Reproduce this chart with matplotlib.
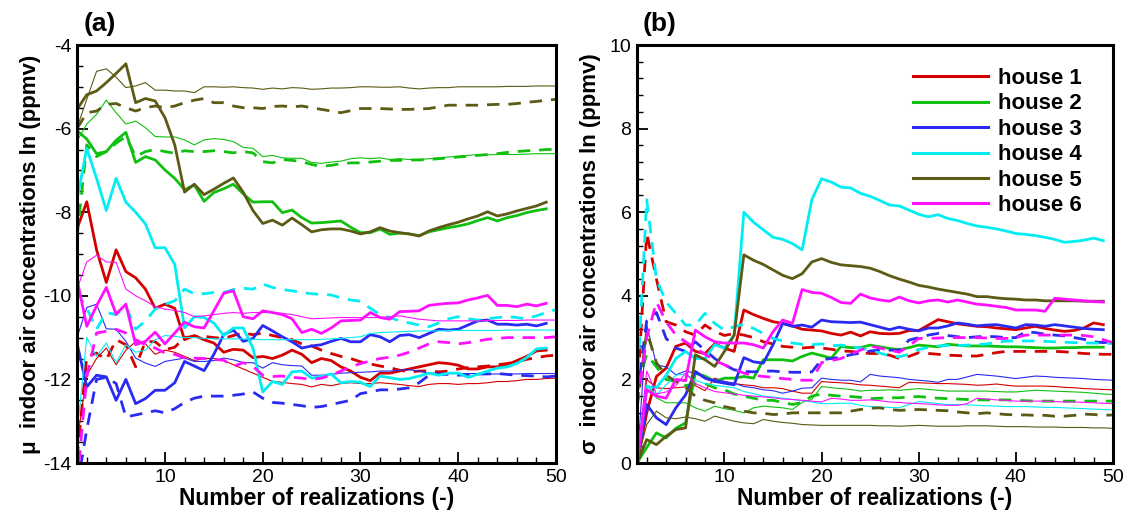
import numpy as np
import matplotlib
matplotlib.use("Agg")
import matplotlib.pyplot as plt
from matplotlib.ticker import MultipleLocator

plt.rcParams['font.family'] = ['Liberation Sans', 'DejaVu Sans']
plt.rcParams['axes.unicode_minus'] = False

houses = ['house 1', 'house 2', 'house 3', 'house 4', 'house 5', 'house 6']
colors = ['#d40000', '#10c010', '#2a2af2', '#00eef2', '#5c5a14', '#ff10ff']

# ---- (a) mean of ln concentration vs number of realizations ----
# thick = first set, thin = second set, dashed = third set
mu_h1 = [-8.40, -7.75, -8.90, -9.68, -8.90, -9.42, -9.57, -9.84, -10.30, -10.20,
         -10.30, -11.05, -10.95, -11.05, -11.13, -11.35, -11.28, -11.30, -11.48, -11.45,
         -11.50, -11.42, -11.30, -11.40, -11.60, -11.50, -11.55, -11.70, -11.80, -11.95,
         -12.03, -11.85, -11.85, -11.80, -11.75, -11.70, -11.65, -11.60, -11.62, -11.66,
         -11.75, -11.75, -11.70, -11.70, -11.65, -11.55, -11.45, -11.32, -11.30]
mu_h1_thin = [-13.5, -11.9, -11.5, -11.25, -11.65, -11.3, -11.1, -11.15, -11.4, -11.3,
              -11.35, -11.45, -11.55, -11.5, -11.5, -11.55, -11.65, -11.75, -11.85, -11.95,
              -12.05, -12.07, -12.1, -12.12, -12.18, -12.12, -12.15, -12.1, -12.08, -12.1,
              -12.1, -12.08, -12.1, -12.12, -12.15, -12.17, -12.12, -12.1, -12.1, -12.12,
              -12.1, -12.1, -12.08, -12.05, -12.05, -12.03, -12.0, -12.0, -11.98, -11.97]
mu_h1_dash = [-13.9, -11.45, -11.37, -11.53, -11.05, -11.17, -11.7, -11.09, -11.1, -11.29,
              -11.23, -11.0, -10.97, -10.97, -11.0, -11.02, -10.95, -10.89, -10.93, -10.89,
              -10.95, -11.0, -11.05, -11.15, -11.2, -11.3, -11.38, -11.45, -11.5, -11.58,
              -11.63, -11.68, -11.72, -11.78, -11.82, -11.8, -11.8, -11.82, -11.8, -11.75,
              -11.72, -11.7, -11.68, -11.65, -11.62, -11.58, -11.52, -11.48, -11.44, -11.42]

mu_h2 = [-6.05, -6.25, -6.6, -6.55, -6.28, -6.09, -6.81, -6.67, -6.75, -6.99,
         -7.19, -7.46, -7.35, -7.74, -7.53, -7.44, -7.33, -7.56, -7.76, -7.75,
         -7.75, -8.01, -7.95, -8.13, -8.26, -8.25, -8.23, -8.21, -8.36, -8.49,
         -8.49, -8.4, -8.53, -8.5, -8.52, -8.56, -8.47, -8.42, -8.37, -8.33,
         -8.28, -8.2, -8.13, -8.21, -8.13, -8.08, -8.01, -7.96, -7.92]
mu_h2_thin = [-6.3, -5.89, -5.66, -5.32, -5.62, -5.89, -5.82, -5.98, -6.19, -6.2,
              -6.2, -6.27, -6.39, -6.27, -6.24, -6.26, -6.31, -6.45, -6.47, -6.67,
              -6.64, -6.7, -6.71, -6.71, -6.81, -6.83, -6.8, -6.78, -6.72, -6.7,
              -6.72, -6.7, -6.74, -6.72, -6.74, -6.74, -6.72, -6.7, -6.68, -6.66,
              -6.64, -6.62, -6.63, -6.62, -6.62, -6.62, -6.61, -6.6, -6.6, -6.6]
mu_h2_dash = [-8.6, -6.39, -6.67, -6.55, -6.35, -6.19, -6.67, -6.55, -6.5, -6.55,
              -6.59, -6.53, -6.55, -6.55, -6.53, -6.55, -6.58, -6.55, -6.58, -6.79,
              -6.82, -6.74, -6.76, -6.79, -6.86, -6.9, -6.88, -6.84, -6.82, -6.82,
              -6.8, -6.78, -6.76, -6.76, -6.75, -6.75, -6.74, -6.72, -6.7, -6.68,
              -6.66, -6.64, -6.62, -6.6, -6.57, -6.55, -6.53, -6.52, -6.5, -6.5]

mu_h3 = [-11.13, -12.18, -11.9, -11.94, -12.5, -12.0, -12.58, -12.46, -12.26, -12.26,
         -12.08, -11.57, -11.68, -11.79, -11.4, -10.93, -10.82, -11.09, -11.02, -10.71,
         -10.84, -10.98, -11.1, -11.25, -11.2, -11.17, -11.09, -11.02, -11.1, -11.1,
         -10.93, -10.98, -11.1, -10.95, -10.93, -11.0, -10.9, -10.8, -10.82, -10.8,
         -10.7, -10.6, -10.58, -10.68, -10.68, -10.7, -10.68, -10.72, -10.66]
mu_h3_thin = [-11.0, -10.28, -10.2, -10.79, -10.8, -11.09, -11.49, -11.61, -11.69, -11.57,
              -11.53, -11.49, -11.57, -11.57, -11.55, -11.49, -11.53, -11.6, -11.6, -11.73,
              -11.6, -11.65, -11.67, -11.68, -11.9, -11.9, -11.88, -11.85, -11.84, -11.83,
              -11.82, -11.8, -11.8, -11.78, -11.77, -11.8, -11.85, -11.85, -11.86, -11.86,
              -11.86, -11.86, -11.87, -11.87, -11.87, -11.87, -11.86, -11.86, -11.86, -11.86]
mu_h3_dash = [-14.6, -13.2, -12.0, -11.95, -12.1, -12.9, -12.85, -12.8, -12.75, -12.8,
              -12.7, -12.55, -12.45, -12.4, -12.4, -12.4, -12.38, -12.35, -12.3, -12.45,
              -12.55, -12.57, -12.6, -12.63, -12.67, -12.65, -12.6, -12.55, -12.5, -12.34,
              -12.3, -12.25, -12.25, -12.23, -12.2, -12.08, -11.9, -11.88, -11.88, -11.9,
              -11.88, -11.87, -11.87, -11.86, -11.88, -11.9, -11.91, -11.92, -11.94, -11.92]

mu_h4 = [-7.7, -6.47, -7.19, -7.96, -7.19, -7.76, -8.0, -8.28, -8.85, -8.85,
         -9.25, -10.77, -10.5, -10.52, -10.65, -10.95, -10.77, -10.77, -11.25, -12.3,
         -12.05, -12.12, -11.82, -11.8, -11.97, -11.93, -11.87, -12.08, -12.05, -12.07,
         -12.17, -11.92, -11.96, -12.0, -11.98, -11.92, -11.85, -11.9, -11.85, -11.85,
         -11.95, -11.88, -11.8, -11.73, -11.7, -11.62, -11.48, -11.27, -11.25]
mu_h4_thin = [-13.3, -11.0, -11.45, -11.13, -11.6, -11.17, -11.35, -11.3, -11.05, -10.95,
              -10.97, -11.0, -11.0, -11.02, -11.03, -11.03, -11.03, -11.03, -11.04, -11.05,
              -11.05, -11.05, -11.05, -11.05, -11.05, -11.04, -11.03, -11.02, -11.0, -10.98,
              -10.9, -10.88, -10.87, -10.86, -10.85, -10.84, -10.84, -10.84, -10.83, -10.83,
              -10.83, -10.83, -10.83, -10.83, -10.82, -10.82, -10.82, -10.82, -10.82, -10.82]
mu_h4_dash = [-9.9, -10.3, -10.8, -10.4, -10.45, -10.25, -10.8, -10.6, -10.32, -10.2,
              -10.12, -9.84, -9.95, -9.95, -9.92, -9.92, -9.85, -9.82, -9.84, -9.72,
              -9.8, -9.85, -9.88, -9.92, -9.95, -9.97, -9.98, -10.05, -10.1, -10.13,
              -10.3, -10.45, -10.52, -10.6, -10.65, -10.7, -10.74, -10.65, -10.55, -10.5,
              -10.55, -10.58, -10.55, -10.52, -10.5, -10.52, -10.55, -10.48, -10.4, -10.33]

mu_h5 = [-5.54, -5.19, -5.1, -4.9, -4.68, -4.45, -5.38, -5.28, -5.34, -5.74,
         -6.39, -7.52, -7.33, -7.58, -7.45, -7.31, -7.18, -7.52, -7.96, -8.27,
         -8.19, -8.31, -8.14, -8.3, -8.47, -8.42, -8.4, -8.4, -8.45, -8.52,
         -8.47, -8.37, -8.45, -8.49, -8.52, -8.57, -8.45, -8.37, -8.3, -8.24,
         -8.16, -8.09, -7.99, -8.09, -8.04, -7.97, -7.91, -7.85, -7.76]
mu_h5_thin = [-5.98, -5.3, -4.63, -4.57, -4.77, -5.02, -4.98, -4.9, -5.08, -5.08,
              -5.1, -5.1, -5.14, -5.0, -5.0, -5.01, -5.0, -5.02, -5.03, -5.06,
              -5.03, -5.05, -5.02, -5.03, -5.06, -5.05, -5.03, -5.03, -5.02, -5.0,
              -5.0, -5.01, -5.01, -5.0, -5.03, -5.05, -5.03, -5.02, -5.02, -5.0,
              -5.0, -5.0, -5.0, -5.0, -4.99, -4.99, -4.99, -4.98, -4.98, -4.98]
mu_h5_dash = [-6.0, -5.62, -5.58, -5.42, -5.4, -5.5, -5.58, -5.5, -5.46, -5.5,
              -5.46, -5.38, -5.32, -5.28, -5.38, -5.38, -5.46, -5.5, -5.5, -5.52,
              -5.47, -5.46, -5.48, -5.46, -5.5, -5.54, -5.58, -5.62, -5.57, -5.52,
              -5.52, -5.52, -5.53, -5.54, -5.54, -5.53, -5.52, -5.48, -5.44, -5.44,
              -5.44, -5.44, -5.43, -5.42, -5.42, -5.4, -5.37, -5.35, -5.32, -5.3]

mu_h6 = [-9.6, -10.73, -10.24, -9.8, -10.44, -10.2, -11.17, -11.09, -10.87, -11.15,
         -10.89, -10.63, -10.74, -10.77, -10.36, -9.94, -9.88, -10.5, -10.55, -10.36,
         -10.4, -10.45, -10.55, -10.88, -10.8, -10.9, -10.77, -10.6, -10.59, -10.58,
         -10.4, -10.52, -10.56, -10.38, -10.37, -10.36, -10.23, -10.2, -10.18, -10.17,
         -10.1, -10.05, -9.99, -10.23, -10.23, -10.26, -10.2, -10.24, -10.18]
mu_h6_thin = [-9.84, -9.19, -9.03, -9.19, -9.2, -9.84, -10.0, -10.12, -10.26, -10.32,
              -10.35, -10.4, -10.5, -10.48, -10.45, -10.42, -10.4, -10.42, -10.4, -10.4,
              -10.4, -10.42, -10.45, -10.5, -10.55, -10.54, -10.53, -10.52, -10.52, -10.52,
              -10.52, -10.52, -10.5, -10.48, -10.52, -10.56, -10.58, -10.6, -10.6, -10.6,
              -10.6, -10.6, -10.59, -10.59, -10.59, -10.59, -10.58, -10.58, -10.58, -10.58]
mu_h6_dash = [-14.5, -11.94, -10.89, -10.85, -10.8, -10.89, -11.05, -11.17, -11.25, -11.37,
              -11.4, -11.49, -11.49, -11.5, -11.52, -11.54, -11.69, -11.6, -11.69, -11.9,
              -11.93, -11.92, -11.95, -11.97, -12.0, -11.97, -11.9, -11.8, -11.7, -11.62,
              -11.56, -11.5, -11.47, -11.42, -11.35, -11.25, -11.15, -11.1, -11.12, -11.15,
              -11.12, -11.08, -11.04, -11.02, -11.0, -11.0, -11.0, -11.0, -11.0, -10.98]

# ---- (b) standard deviation of ln concentration ----
sd_h1 = [0, 1.2, 2.07, 2.27, 2.79, 2.87, 2.67, 2.62, 2.85, 2.75,
         2.67, 3.66, 3.55, 3.46, 3.38, 3.34, 3.28, 3.2, 3.18, 3.16,
         3.1, 3.06, 3.13, 3.04, 3.14, 3.1, 3.09, 3.1, 3.17, 3.17,
         3.3, 3.43, 3.38, 3.33, 3.3, 3.27, 3.26, 3.23, 3.21, 3.19,
         3.23, 3.27, 3.22, 3.18, 3.15, 3.17, 3.23, 3.35, 3.31]
sd_h1_thin = [0, 2.0, 1.8, 1.78, 1.8, 1.82, 1.85, 1.73, 2.03, 1.95,
              1.9, 1.87, 1.85, 1.8, 1.8, 1.78, 1.72, 1.67, 1.67, 1.95,
              1.93, 1.92, 1.9, 1.87, 1.86, 1.84, 1.82, 1.8, 1.93, 1.92,
              1.91, 1.9, 1.9, 1.89, 1.88, 1.86, 1.87, 1.89, 1.86, 1.84,
              1.84, 1.84, 1.84, 1.83, 1.81, 1.8, 1.78, 1.77, 1.76, 1.75]
sd_h1_dash = [1.5, 5.5, 4.4, 3.38, 3.3, 3.14, 3.06, 3.3, 3.15, 3.05,
              3.1, 3.06, 3.0, 2.9, 2.85, 2.79, 2.77, 2.75, 2.77, 2.75,
              2.72, 2.68, 2.67, 2.64, 2.62, 2.62, 2.58, 2.5, 2.55, 2.64,
              2.62, 2.6, 2.58, 2.57, 2.56, 2.56, 2.6, 2.64, 2.67, 2.67,
              2.67, 2.67, 2.67, 2.67, 2.66, 2.64, 2.62, 2.61, 2.6, 2.6]

sd_h2 = [0, 0.37, 0.72, 0.6, 0.83, 0.96, 2.15, 2.08, 1.95, 2.03,
         2.03, 2.07, 2.03, 2.47, 2.47, 2.47, 2.44, 2.55, 2.63, 2.57,
         2.51, 2.79, 2.76, 2.76, 2.82, 2.78, 2.74, 2.71, 2.76, 2.82,
         2.8, 2.78, 2.84, 2.82, 2.8, 2.8, 2.8, 2.79, 2.78, 2.78,
         2.77, 2.76, 2.75, 2.75, 2.76, 2.76, 2.77, 2.77, 2.77]
sd_h2_thin = [0, 1.87, 1.56, 1.44, 1.44, 1.44, 1.32, 1.24, 1.36, 1.3,
              1.26, 1.2, 1.32, 1.36, 1.34, 1.32, 1.28, 1.45, 1.52, 1.83,
              1.8, 1.78, 1.76, 1.72, 1.74, 1.74, 1.75, 1.74, 1.76, 1.78,
              1.76, 1.74, 1.72, 1.72, 1.72, 1.72, 1.72, 1.71, 1.7, 1.7,
              1.72, 1.74, 1.73, 1.72, 1.71, 1.7, 1.69, 1.67, 1.65, 1.64]
sd_h2_dash = [1.8, 2.6, 2.3, 2.0, 1.95, 1.85, 1.9, 1.9, 1.8, 1.75,
              1.65, 1.6, 1.55, 1.5, 1.5, 1.45, 1.4, 1.45, 1.6, 1.65,
              1.62, 1.6, 1.59, 1.57, 1.54, 1.55, 1.56, 1.56, 1.58, 1.59,
              1.57, 1.55, 1.54, 1.53, 1.52, 1.51, 1.51, 1.51, 1.51, 1.5,
              1.49, 1.48, 1.48, 1.48, 1.48, 1.48, 1.48, 1.48, 1.48, 1.48]

sd_h3 = [0, 1.4, 1.08, 0.92, 1.32, 1.63, 2.19, 2.03, 1.95, 1.91,
         1.87, 2.52, 2.42, 2.39, 2.83, 3.34, 3.27, 3.3, 3.25, 3.42,
         3.38, 3.37, 3.36, 3.37, 3.31, 3.25, 3.19, 3.25, 3.2, 3.16,
         3.23, 3.23, 3.28, 3.35, 3.32, 3.28, 3.3, 3.31, 3.27, 3.23,
         3.31, 3.3, 3.27, 3.31, 3.28, 3.25, 3.22, 3.2, 3.19]
sd_h3_thin = [0, 3.3, 2.35, 2.3, 2.11, 2.2, 2.15, 2.03, 2.0, 1.95,
              1.91, 1.83, 1.8, 1.75, 1.73, 1.67, 1.72, 1.79, 1.8, 2.03,
              2.0, 1.98, 1.98, 1.94, 2.12, 2.08, 2.06, 2.04, 2.0, 1.98,
              1.96, 1.93, 2.0, 2.0, 2.06, 2.12, 2.1, 2.08, 2.05, 2.02,
              2.05, 2.08, 2.07, 2.05, 2.04, 2.03, 2.02, 2.0, 1.99, 1.98]
sd_h3_dash = [1.6, 3.4, 3.6, 2.98, 2.75, 2.67, 2.9, 2.7, 2.5, 2.35,
              2.23, 2.19, 2.18, 2.2, 2.2, 2.18, 2.17, 2.17, 2.18, 2.47,
              2.5, 2.53, 2.59, 2.63, 2.68, 2.7, 2.7, 2.7, 2.94, 3.0,
              3.06, 3.1, 3.05, 3.02, 3.0, 3.02, 3.03, 3.02, 3.0, 3.0,
              3.14, 3.12, 3.08, 3.06, 3.04, 3.0, 2.96, 2.9, 2.88, 2.9]

sd_h4 = [0, 1.83, 1.8, 2.1, 2.5, 2.67, 2.5, 2.5, 2.83, 2.75,
         3.06, 6.0, 5.76, 5.58, 5.4, 5.35, 5.25, 5.1, 6.3, 6.8,
         6.72, 6.6, 6.58, 6.45, 6.38, 6.28, 6.17, 6.15, 6.05, 5.95,
         5.89, 5.94, 5.85, 5.8, 5.73, 5.67, 5.64, 5.6, 5.55, 5.49,
         5.47, 5.44, 5.4, 5.35, 5.28, 5.3, 5.33, 5.38, 5.32]
sd_h4_thin = [0, 1.85, 1.63, 1.87, 2.1, 2.13, 1.98, 1.9, 1.86, 1.83,
              1.8, 1.71, 1.66, 1.6, 1.58, 1.55, 1.52, 1.49, 1.46, 1.42,
              1.42, 1.43, 1.43, 1.38, 1.35, 1.34, 1.33, 1.32, 1.4, 1.47,
              1.45, 1.42, 1.4, 1.4, 1.39, 1.38, 1.37, 1.36, 1.35, 1.35,
              1.35, 1.34, 1.33, 1.33, 1.32, 1.31, 1.3, 1.29, 1.28, 1.27]
sd_h4_dash = [1.7, 6.3, 4.4, 3.85, 3.58, 3.3, 3.3, 3.58, 3.34, 3.18,
              3.26, 3.32, 3.22, 3.1, 2.98, 2.92, 2.87, 2.84, 2.83, 2.85,
              2.8, 2.82, 2.79, 2.75, 2.7, 2.63, 2.56, 2.54, 2.6, 2.72,
              2.76, 2.8, 2.81, 2.81, 2.82, 2.83, 2.85, 2.88, 2.92, 2.92,
              2.92, 2.92, 2.91, 2.9, 2.89, 2.88, 2.87, 2.87, 2.86, 2.86]

sd_h5 = [0, 0.56, 0.44, 0.64, 0.8, 0.84, 2.59, 2.47, 2.31, 2.67,
         3.06, 4.98, 4.85, 4.75, 4.62, 4.49, 4.41, 4.53, 4.81, 4.89,
         4.8, 4.74, 4.72, 4.7, 4.66, 4.58, 4.48, 4.4, 4.33, 4.25,
         4.21, 4.16, 4.12, 4.08, 4.04, 3.98, 3.98, 3.95, 3.93, 3.92,
         3.9, 3.9, 3.88, 3.88, 3.88, 3.88, 3.87, 3.87, 3.87]
sd_h5_thin = [0, 0.92, 1.24, 1.08, 1.06, 1.1, 1.06, 1.0, 1.12, 1.06,
              1.0, 0.96, 0.94, 1.04, 1.0, 0.97, 0.95, 0.92, 0.91, 0.9,
              0.9, 0.9, 0.9, 0.9, 0.9, 0.89, 0.89, 0.88, 0.89, 0.9,
              0.89, 0.88, 0.88, 0.88, 0.89, 0.89, 0.89, 0.88, 0.87, 0.87,
              0.87, 0.86, 0.86, 0.86, 0.85, 0.85, 0.85, 0.84, 0.84, 0.83]
sd_h5_dash = [1.3, 3.15, 2.4, 2.1, 1.95, 1.8, 1.6, 1.5, 1.44, 1.35,
              1.3, 1.24, 1.2, 1.19, 1.16, 1.17, 1.2, 1.2, 1.2, 1.2,
              1.2, 1.2, 1.24, 1.28, 1.31, 1.32, 1.28, 1.26, 1.27, 1.28,
              1.27, 1.26, 1.25, 1.22, 1.2, 1.18, 1.2, 1.18, 1.16, 1.15,
              1.15, 1.14, 1.14, 1.12, 1.12, 1.14, 1.17, 1.16, 1.14, 1.15]

sd_h6 = [0, 1.75, 1.6, 1.55, 2.0, 1.97, 3.18, 3.02, 2.9, 2.87,
         2.87, 2.87, 2.83, 2.75, 3.14, 3.42, 3.34, 4.15, 4.08, 4.06,
         3.96, 3.84, 3.82, 4.04, 3.95, 3.9, 3.87, 3.97, 3.88, 3.83,
         3.88, 3.9, 3.85, 3.9, 3.85, 3.8, 3.78, 3.75, 3.72, 3.66,
         3.66, 3.66, 3.63, 3.94, 3.92, 3.9, 3.88, 3.86, 3.85]
sd_h6_thin = [0, 2.2, 1.65, 1.7, 1.85, 2.15, 1.9, 1.8, 1.71, 1.68,
              1.65, 1.62, 1.6, 1.58, 1.56, 1.53, 1.52, 1.5, 1.48, 1.46,
              1.55, 1.53, 1.5, 1.5, 1.51, 1.49, 1.46, 1.45, 1.43, 1.42,
              1.41, 1.39, 1.38, 1.38, 1.42, 1.55, 1.53, 1.51, 1.5, 1.48,
              1.48, 1.48, 1.48, 1.47, 1.46, 1.46, 1.45, 1.44, 1.43, 1.42]
sd_h6_dash = [1.4, 3.0, 3.85, 3.38, 3.06, 2.9, 2.75, 2.6, 2.45, 2.35,
              2.25, 2.15, 2.1, 2.07, 2.05, 2.02, 2.0, 1.98, 1.98, 2.4,
              2.45, 2.5, 2.6, 2.7, 2.8, 2.75, 2.7, 2.65, 2.8, 2.98,
              2.98, 2.99, 3.0, 3.0, 3.0, 3.0, 2.99, 2.98, 2.98, 3.0,
              3.06, 3.06, 3.06, 3.06, 3.06, 3.06, 3.05, 3.02, 2.95, 2.88]

mu_sets = [(mu_h1, mu_h1_thin, mu_h1_dash), (mu_h2, mu_h2_thin, mu_h2_dash),
           (mu_h3, mu_h3_thin, mu_h3_dash), (mu_h4, mu_h4_thin, mu_h4_dash),
           (mu_h5, mu_h5_thin, mu_h5_dash), (mu_h6, mu_h6_thin, mu_h6_dash)]
sd_sets = [(sd_h1, sd_h1_thin, sd_h1_dash), (sd_h2, sd_h2_thin, sd_h2_dash),
           (sd_h3, sd_h3_thin, sd_h3_dash), (sd_h4, sd_h4_thin, sd_h4_dash),
           (sd_h5, sd_h5_thin, sd_h5_dash), (sd_h6, sd_h6_thin, sd_h6_dash)]


def n_axis(vals):
    return np.arange(1, len(vals) + 1)


def draw_panel(ax, sets):
    for col, name, (thick, thin, dash) in zip(colors, houses, sets):
        ax.plot(n_axis(thin), thin, color=col, lw=0.8)
        ax.plot(n_axis(dash), dash, color=col, lw=2.0, dashes=(4.5, 3.2))
        ax.plot(n_axis(thick), thick, color=col, lw=2.0, label=name)


def style_axes(ax, ylim, ymajor, yminor):
    ax.set_xlim(1, 50)
    ax.set_ylim(*ylim)
    ax.xaxis.set_major_locator(MultipleLocator(10))
    ax.xaxis.set_minor_locator(MultipleLocator(2))
    ax.yaxis.set_major_locator(MultipleLocator(ymajor))
    ax.yaxis.set_minor_locator(MultipleLocator(yminor))
    ax.tick_params(which='both', direction='in', top=False, right=False,
                   labelsize=14, pad=4)
    ax.tick_params(which='major', length=8, width=1.3)
    ax.tick_params(which='minor', length=4.5, width=1.0)
    for sp in ax.spines.values():
        sp.set_linewidth(2.2)
    ax.set_xlabel('Number of realizations (-)', fontsize=16.5,
                  fontweight='bold')
    ax.xaxis.set_label_coords(0.5, -0.058)


fig = plt.figure(figsize=(11.37, 5.22), dpi=100)
W, H = 1137, 522
ax1 = fig.add_axes([77 / W, (H - 463) / H, 479 / W, 418 / H])
ax2 = fig.add_axes([637 / W, (H - 463) / H, 476 / W, 418 / H])

draw_panel(ax1, mu_sets)
style_axes(ax1, (-14, -4), 2, 0.5)
ax1.set_ylabel('\u03bc  indoor air concentrations ln (ppmv)', fontsize=16,
               fontweight='bold', va='center')
ax1.yaxis.set_label_coords(-0.098, 0.5)

draw_panel(ax2, sd_sets)
style_axes(ax2, (0, 10), 2, 0.4)
ax2.set_ylabel('\u03c3  indoor air concentrations ln (ppmv)', fontsize=16,
               fontweight='bold', va='center')
ax2.yaxis.set_label_coords(-0.097, 0.5)

leg = ax2.legend(loc='upper right', bbox_to_anchor=(0.935, 0.945),
                 frameon=False, handlelength=3.4, handletextpad=0.45,
                 labelspacing=0.2, borderpad=0, borderaxespad=0,
                 prop={'weight': 'bold', 'size': 16})
for ln in leg.get_lines():
    ln.set_linewidth(2.2)

fig.text(100 / W, 1 - 24 / H, '(a)', fontsize=19, fontweight='bold',
         ha='center', va='center')
fig.text(660 / W, 1 - 24 / H, '(b)', fontsize=19, fontweight='bold',
         ha='center', va='center')

fig.savefig('out.png', dpi=100)
